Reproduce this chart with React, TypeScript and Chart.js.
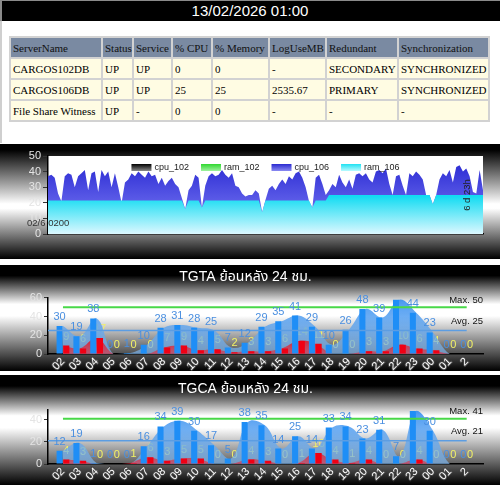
import React, { useEffect, useRef } from 'react';
import Chart from 'chart.js/auto';

const FONT = 'Arial, "Liberation Sans", "Noto Sans", "Noto Sans Thai", sans-serif';
const SERIF = '"Liberation Serif", "Times New Roman", serif';

// ---------- header / table ----------
const headerTime = '13/02/2026 01:00';
const tableColumns = ['ServerName', 'Status', 'Service', '% CPU', '% Memory', 'LogUseMB', 'Redundant', 'Synchronization'];
const tableRows = [
  ['CARGOS102DB', 'UP', 'UP', '0', '0', '-', 'SECONDARY', 'SYNCHRONIZED'],
  ['CARGOS106DB', 'UP', 'UP', '25', '25', '2535.67', 'PRIMARY', 'SYNCHRONIZED'],
  ['File Share Witness', 'UP', '-', '0', '0', '-', '-', '-'],
];
const colWidths = [90, 29, 37, 38, 55, 55, 70, 89];

// ---------- sparkline ----------
const sparkSeries = ['cpu_102', 'ram_102', 'cpu_106', 'ram_106'];
const cpu102: number[] = [];
const ram102: number[] = [];
const cpu106 = [
  37, 38, 36, 26, 21, 37, 39, 38, 30, 37, 39,
  41, 28, 39, 40, 27, 41, 37, 40, 30, 39,
  30, 20, 33, 35, 39, 37, 40, 38, 36, 40,
  37, 38, 32, 36, 31, 34, 36, 32, 30, 23,
  16, 28, 31, 38, 36, 17, 31, 37, 39, 37,
  38, 41, 38, 36, 39, 31, 30, 26, 24, 25,
  25, 28, 26, 14, 22, 29, 31, 28, 32, 35,
  32, 37, 35, 39, 40, 36, 30, 21, 17, 36,
  38, 32, 25, 28, 32, 30, 38, 33, 30, 35,
  29, 38, 39, 37, 39, 35, 33, 40, 41, 39,
  42, 32, 25, 37, 38, 31, 25, 39, 37, 40,
  38, 35, 25, 25, 19, 25, 35, 39, 37, 41,
  33, 43, 44, 40, 42, 37, 27, 26, 41, 28,
];
const ram106 = [
  21.5, 21.5, 21.5, 21.5, 21.5, 21.5, 21.5, 21.5, 21.5, 21.5,
  21.5, 21.5, 21.5, 21.5, 21.5, 21.5, 21.5, 21.5, 21.5, 21.5,
  21.5, 21.5, 21.5, 21.5, 21.5, 21.5, 21.5, 21.5, 21.5, 21.5,
  21.5, 21.5, 21.5, 21.5, 21.5, 21.5, 21.5, 21.5, 21.5, 21.5,
  21.5, 16, 21.5, 21.5, 21.5, 21.5, 17, 21.5, 21.5, 21.5,
  21.5, 21.5, 21.5, 21.5, 21.5, 21.5, 21.5, 21.5, 21.5, 21.5,
  21.5, 21.5, 21.5, 21.5, 14, 21.5, 21.5, 21.5, 21.5, 21.5,
  21.5, 21.5, 21.5, 21.5, 21.5, 21.5, 21.5, 21.5, 21.5, 17,
  21.5, 21.5, 21.5, 21.5, 25, 25, 25, 25, 25, 25,
  25, 25, 25, 25, 25, 25, 25, 25, 25, 25,
  25, 25, 25, 25, 25, 25, 25, 25, 25, 25,
  25, 25, 25, 25, 25, 19, 25, 25, 25, 25,
  25, 25, 25, 25, 25, 25, 25, 25, 25, 25,
  25,
];
const sparkStartLabel = '02/6 0200';
const sparkSpanLabel = '6 d 23h';
const sparkSwatches = [
  ['#000000', '#8a8a8a'],
  ['#2fd82f', '#9ff29f'],
  ['#2a2ad0', '#8a8af2'],
  ['#1fe2f2', '#b8faff'],
];

// ---------- hourly charts ----------
const hourLabels = ['02', '03', '04', '05', '06', '07', '08', '09', '10', '11', '12', '13', '14', '15', '16', '17', '18', '19', '20', '21', '22', '23', '00', '01', '2'];
const tgtaTitle = 'TGTA ย้อนหลัง 24 ชม.';
const tgtaTotal = [30, 19, 38, 0, 1, 10, 28, 31, 28, 25, 7, 12, 29, 35, 41, 29, 10, 26, 48, 39, 58, 44, 23, 0, 0];
const tgtaRed = [9, 6, 17, 0, 0, 0, 7, 9, 4, 5, 2, 3, 3, 6, 14, 11, 0, 0, 3, 3, 10, 6, 4, 0, 0];
const tgtaMax = 50;
const tgtaAvg = 25;
const tgcaTitle = 'TGCA ย้อนหลัง 24 ชม.';
const tgcaTotal = [12, 19, 1, 0, 0, 16, 34, 39, 30, 17, 5, 38, 35, 14, 25, 14, 33, 34, 23, 31, 7, 48, 30, 0, 0];
const tgcaRed = [4, 3, 0, 0, 1, 6, 3, 5, 5, 0, 0, 4, 3, 0, 1, 10, 4, 1, 4, 0, 0, 4, 0, 0, 0];
const tgcaMax = 41;
const tgcaAvg = 21;

Chart.defaults.font.family = FONT;

const panelGradient = 'linear-gradient(to bottom, #000 0%, #000 10%, #fff 37%, #fff 48%, #000 100%)';
const sparkGradient = 'linear-gradient(to bottom, #000 0%, #000 5%, #fff 52%, #fff 56%, #000 100%)';

function vGrad(chart: any, v0: number, v1: number, c0: string, c1: string) {
  const { ctx, chartArea, scales } = chart;
  if (!chartArea) return c0;
  const y0 = scales.y.getPixelForValue(v0);
  const y1 = scales.y.getPixelForValue(v1);
  const g = ctx.createLinearGradient(0, y0, 0, y1);
  g.addColorStop(0, c0);
  g.addColorStop(1, c1);
  return g;
}

const sparkPlugin = {
  id: 'sparkExtras',
  beforeDraw(chart: any) {
    const { ctx, chartArea: a } = chart;
    ctx.save();
    ctx.fillStyle = '#fff';
    ctx.fillRect(a.left, a.top, a.right - a.left, a.bottom - a.top);
    ctx.restore();
  },
  afterDraw(chart: any) {
    const { ctx, chartArea: a } = chart;
    ctx.save();
    ctx.font = `9px ${FONT}`;
    const gap = 12;
    const items = chart.data.datasets.map((d: any, i: number) => ({
      text: d.label,
      w: 23 + ctx.measureText(d.label).width,
      sw: sparkSwatches[i],
    }));
    const total = items.reduce((s: number, it: any) => s + it.w, 0) + gap * (items.length - 1);
    let x = (a.left + a.right) / 2 - total / 2;
    const cy = a.top + 11.5;
    items.forEach((it: any) => {
      const g = ctx.createLinearGradient(0, cy - 3.5, 0, cy + 3.5);
      g.addColorStop(0, it.sw[0]);
      g.addColorStop(1, it.sw[1]);
      ctx.fillStyle = g;
      ctx.fillRect(x, cy - 3.5, 20, 7);
      ctx.fillStyle = '#222';
      ctx.textAlign = 'left';
      ctx.textBaseline = 'middle';
      ctx.fillText(it.text, x + 23, cy + 0.5);
      x += it.w + gap;
    });
    ctx.font = `9.5px ${FONT}`;
    ctx.fillStyle = '#333';
    ctx.textAlign = 'left';
    ctx.fillText(sparkStartLabel, a.left - 21, a.bottom - 10.5);
    ctx.translate(a.right - 16, a.top + 39);
    ctx.rotate(-Math.PI / 2);
    ctx.textAlign = 'center';
    ctx.fillStyle = '#222';
    ctx.fillText(sparkSpanLabel, 0, 0);
    ctx.restore();
  },
};

function drawValueLabels(chart: any, under: boolean) {
  const { ctx, chartArea } = chart;
  chart.data.datasets.forEach((ds: any, i: number) => {
    if (!ds.valueLabel || !!ds.labelUnder !== under) return;
    const meta = chart.getDatasetMeta(i);
    ctx.save();
    ctx.font = `11px ${FONT}`;
    ctx.fillStyle = ds.valueLabel;
    ctx.textAlign = 'center';
    ctx.textBaseline = 'middle';
    meta.data.forEach((el: any, j: number) => {
      const y = el.y - 9;
      if (y - 5 < chartArea.top - 6) return;
      ctx.fillText(String(ds.data[j].y), el.x, y);
    });
    ctx.restore();
  });
}

const hourPlugin = {
  id: 'hourExtras',
  beforeDatasetsDraw(chart: any) {
    drawValueLabels(chart, true);
  },
  afterDatasetsDraw(chart: any) {
    drawValueLabels(chart, false);
    const { ctx, chartArea } = chart;
    ctx.save();
    ctx.font = `9.5px ${FONT}`;
    ctx.fillStyle = '#111';
    ctx.textAlign = 'right';
    ctx.textBaseline = 'middle';
    chart.data.datasets.forEach((ds: any) => {
      if (!ds.refText) return;
      const y = chart.scales.y.getPixelForValue(ds.refValue) - ds.refOffset;
      ctx.fillText(ds.refText, chartArea.right, y);
    });
    ctx.restore();
  },
};

function makeSpark(canvas: HTMLCanvasElement) {
  return new Chart(canvas, {
    type: 'line',
    data: {
      labels: cpu106.map((_, i) => String(i)),
      datasets: [
        { label: sparkSeries[0], data: cpu102, fill: 'origin', backgroundColor: '#111', borderWidth: 0, pointRadius: 0, order: 3 },
        { label: sparkSeries[1], data: ram102, fill: 'origin', backgroundColor: '#3ee03e', borderWidth: 0, pointRadius: 0, order: 2 },
        {
          label: sparkSeries[2], data: cpu106, fill: 'origin', borderWidth: 0, pointRadius: 0, tension: 0, order: 1,
          backgroundColor: (c: any) => vGrad(c.chart, 45, 18, '#2c2cd4', '#6262ea'),
        },
        {
          label: sparkSeries[3], data: ram106, fill: 'origin', borderWidth: 0, pointRadius: 0, tension: 0, order: 0,
          backgroundColor: (c: any) => vGrad(c.chart, 24, 0, '#14dcf2', '#dcf8ff'),
        },
      ],
    } as any,
    options: {
      animation: false,
      responsive: false,
      events: [],
      layout: { padding: { left: 8, top: 12, right: 17, bottom: 25 } },
      scales: {
        x: {
          display: true,
          ticks: { display: false },
          grid: { display: false, drawTicks: false },
          border: { display: true, color: '#000', width: 1.5 },
          afterFit: (s: any) => { s.height = 0; },
        },
        y: {
          min: 0, max: 50,
          ticks: { stepSize: 10, autoSkip: false, color: '#e4e4e4', font: { size: 11, family: FONT }, padding: 2 },
          grid: { drawOnChartArea: false, drawTicks: true, tickLength: 5, color: '#333' },
          border: { display: true, color: '#000', width: 1.5 },
          afterFit: (s: any) => { s.width = 40; },
        },
      },
      plugins: { legend: { display: false }, tooltip: { enabled: false }, title: { display: false } },
    } as any,
    plugins: [sparkPlugin],
  });
}

function makeHour(canvas: HTMLCanvasElement, cfg: any) {
  const xMin = -0.89;
  const xMax = 24.97;
  const last = hourLabels.length - 1;
  const pts = (arr: number[]) => arr.map((y, x) => ({ x, y }));
  return new Chart(canvas, {
    type: 'bar',
    data: {
      datasets: [
        {
          type: 'line', label: 'max', data: [{ x: 0, y: cfg.maxV }, { x: last, y: cfg.maxV }],
          borderColor: '#48d848', borderWidth: 2, pointRadius: 0, fill: false, order: 0,
          refText: `Max. ${cfg.maxV}`, refValue: cfg.maxV, refOffset: 7,
        },
        {
          type: 'line', label: 'avg', data: [{ x: xMin, y: cfg.avgV }, { x: last, y: cfg.avgV }],
          borderColor: '#5c9de2', borderWidth: 1.5, pointRadius: 0, fill: false, order: 0,
          refText: `Avg. ${cfg.avgV}`, refValue: cfg.avgV, refOffset: 9,
        },
        { type: 'bar', label: 'total', data: pts(cfg.total), backgroundColor: '#1f8ef6', order: 1, valueLabel: '#4a8fe0', labelUnder: false },
        { type: 'bar', label: 'red', data: pts(cfg.red), backgroundColor: '#f00014', order: 1, valueLabel: '#f2f266', labelUnder: true },
        {
          type: 'line', label: 'redArea', data: pts(cfg.red), fill: 'origin', borderWidth: 0, pointRadius: 0, tension: 0.4, order: 2,
          backgroundColor: (c: any) => vGrad(c.chart, 18, 0, 'rgba(235,0,10,0.85)', 'rgba(235,40,60,0.55)'),
        },
        {
          type: 'line', label: 'totalArea', data: pts(cfg.total), fill: 'origin', borderWidth: 0, pointRadius: 0, tension: 0.4, order: 3,
          backgroundColor: (c: any) => vGrad(c.chart, cfg.yMax, 0, 'rgba(40,135,240,0.85)', 'rgba(130,185,240,0.68)'),
        },
      ],
    } as any,
    options: {
      animation: false,
      responsive: false,
      events: [],
      layout: { padding: { left: 8, top: 0, right: 17, bottom: 0 } },
      scales: {
        x: {
          type: 'linear', min: xMin, max: xMax, offset: false,
          afterBuildTicks: (s: any) => { s.ticks = hourLabels.map((_, i) => ({ value: i })); },
          ticks: {
            autoSkip: false, minRotation: 45, maxRotation: 45, padding: 1,
            callback: (v: any) => hourLabels[v] ?? '',
            color: '#fff', font: { size: 11, family: FONT },
            textStrokeColor: '#444', textStrokeWidth: 2,
          },
          grid: { display: false, drawTicks: false },
          border: { display: true, color: '#000', width: 1.5 },
          afterFit: (s: any) => { s.height = cfg.xHeight; },
        },
        y: {
          min: 0, max: cfg.yMax,
          ticks: { stepSize: 20, includeBounds: false, autoSkip: false, color: '#e4e4e4', font: { size: 11, family: FONT }, padding: 2 },
          grid: { drawOnChartArea: false, drawTicks: true, tickLength: 4, color: '#333' },
          border: { display: true, color: '#000', width: 1.5 },
          afterFit: (s: any) => { s.width = 40; },
        },
      },
      plugins: {
        legend: { display: false },
        tooltip: { enabled: false },
        title: {
          display: true, text: cfg.title, color: '#fff',
          font: { size: 14, weight: 'normal', family: FONT },
          padding: { top: cfg.titleTop, bottom: cfg.titleBottom },
        },
      },
    } as any,
    plugins: [hourPlugin],
  });
}

function ChartCanvas({ height, build }: { height: number; build: (c: HTMLCanvasElement) => any }) {
  const ref = useRef<HTMLCanvasElement | null>(null);
  useEffect(() => {
    const chart = build(ref.current as HTMLCanvasElement);
    return () => chart.destroy();
  }, []);
  return <canvas ref={ref} width={500} height={height} style={{ display: 'block', width: 500, height }} />;
}

export default function App() {
  const cellBase: React.CSSProperties = { padding: '0 1px 0 2px', height: 19, textAlign: 'left', whiteSpace: 'nowrap', overflow: 'hidden', boxSizing: 'border-box' };
  return (
    <div style={{ position: 'absolute', left: 0, top: 0, width: 500, height: 485, background: '#fff', overflow: 'hidden' }}>
      <div style={{ position: 'absolute', left: 0, top: 0, width: 500, height: 21, background: '#000', color: '#fff', fontFamily: FONT, fontSize: 15, lineHeight: '22px', textAlign: 'center', boxShadow: 'inset 2px 1px 0 #8a8a8a' }}>
        {headerTime}
      </div>
      <div style={{ position: 'absolute', left: 0, top: 21, width: 2, height: 122, background: '#cfcfcf' }} />
      <table style={{ position: 'absolute', left: 9, top: 36, width: 481, borderCollapse: 'separate', borderSpacing: 2, background: '#d2d2d2', tableLayout: 'fixed', fontFamily: SERIF, fontSize: 11, color: '#000' }}>
        <colgroup>
          {colWidths.map((w, i) => <col key={i} style={{ width: w }} />)}
        </colgroup>
        <thead>
          <tr>
            {tableColumns.map((c) => (
              <th key={c} style={{ ...cellBase, background: '#7a8aa2', fontWeight: 'normal', color: '#111' }}>{c}</th>
            ))}
          </tr>
        </thead>
        <tbody>
          {tableRows.map((r, ri) => (
            <tr key={ri}>
              {r.map((v, ci) => (
                <td key={ci} style={{ ...cellBase, background: '#fffce3' }}>{v}</td>
              ))}
            </tr>
          ))}
        </tbody>
      </table>
      <div style={{ position: 'absolute', left: 0, top: 144, width: 500, height: 115, background: sparkGradient }}>
        <ChartCanvas height={115} build={makeSpark} />
      </div>
      <div style={{ position: 'absolute', left: 0, top: 265, width: 500, height: 106, background: panelGradient }}>
        <ChartCanvas
          height={106}
          build={(c) => makeHour(c, { title: tgtaTitle, total: tgtaTotal, red: tgtaRed, maxV: tgtaMax, avgV: tgtaAvg, yMax: 60, xHeight: 17, titleTop: 4, titleBottom: 12 })}
        />
      </div>
      <div style={{ position: 'absolute', left: 0, top: 375, width: 500, height: 110, background: panelGradient }}>
        <ChartCanvas
          height={110}
          build={(c) => makeHour(c, { title: tgcaTitle, total: tgcaTotal, red: tgcaRed, maxV: tgcaMax, avgV: tgcaAvg, yMax: 49, xHeight: 21, titleTop: 6, titleBottom: 12 })}
        />
      </div>
    </div>
  );
}
